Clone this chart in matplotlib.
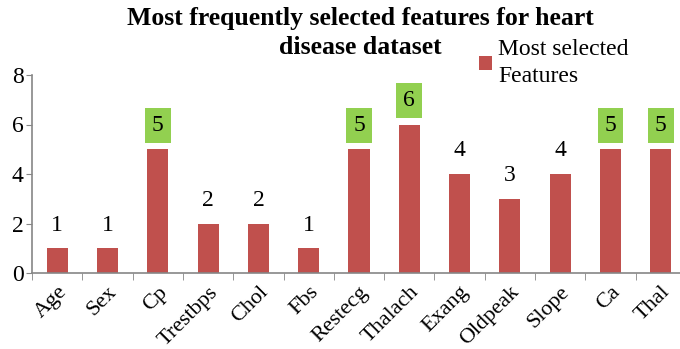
import matplotlib
matplotlib.use("Agg")
import matplotlib.pyplot as plt
import numpy as np

categories = ["Age", "Sex", "Cp", "Trestbps", "Chol", "Fbs", "Restecg",
              "Thalach", "Exang", "Oldpeak", "Slope", "Ca", "Thal"]
values = [1, 1, 5, 2, 2, 1, 5, 6, 4, 3, 4, 5, 5]
highlight = [False, False, True, False, False, False, True, True, False, False, False, True, True]
title_lines = ["Most frequently selected features for heart", "disease dataset"]

plt.rcParams['font.family'] = ['Liberation Serif', 'DejaVu Serif']

fig = plt.figure(figsize=(6.8, 3.49), dpi=100)
ax = fig.add_axes([32/680, 1-273/349, 654/680, (273-75)/349])

x = np.arange(len(categories))
bars = ax.bar(x, values, width=0.42, color="#C0504D", label="Most selected\nFeatures", zorder=2)

ax.set_xlim(-0.5, len(categories) - 0.5)
ax.set_ylim(0, 8)
ax.set_yticks([0, 2, 4, 6, 8])
ax.tick_params(axis='y', labelsize=17, length=4, color="#868686", pad=2)

ax.set_xticks(x)
ax.set_xticklabels(categories, rotation=45, ha='right', va='top', rotation_mode='anchor', fontsize=16)
ax.set_xticks(np.arange(-0.5, len(categories), 1), minor=True)
ax.tick_params(axis='x', which='major', length=0, pad=7)
ax.tick_params(axis='x', which='minor', length=5, color="#868686", direction='out')

for s in ["top", "right"]:
    ax.spines[s].set_visible(False)
for s in ["left", "bottom"]:
    ax.spines[s].set_color("#868686")
    ax.spines[s].set_linewidth(1.2)

for xi, v, h in zip(x, values, highlight):
    if h:
        ax.annotate(str(v), (xi, v), xytext=(0, 24), textcoords='offset pixels',
                    ha='center', va='center', fontsize=17,
                    bbox=dict(boxstyle='square,pad=0.3', fc='#92D050', ec='none'))
    else:
        ax.annotate(str(v), (xi, v), xytext=(0, 23), textcoords='offset pixels',
                    ha='center', va='center', fontsize=17)

fig.text(0.53, 1-19/349, title_lines[0], ha='center', va='center',
         fontsize=18.5, fontweight='bold')
fig.text(0.53, 1-47/349, title_lines[1], ha='center', va='center',
         fontsize=18.5, fontweight='bold')

leg = fig.legend(loc='upper left', bbox_to_anchor=(479/680, 1-39/349), frameon=False,
                 fontsize=17, handlelength=0.55, handleheight=0.55, handletextpad=0.25,
                 borderaxespad=0, borderpad=0)
for t in leg.get_texts():
    t.set_linespacing(1.4)

fig.savefig("out.png", dpi=100)
